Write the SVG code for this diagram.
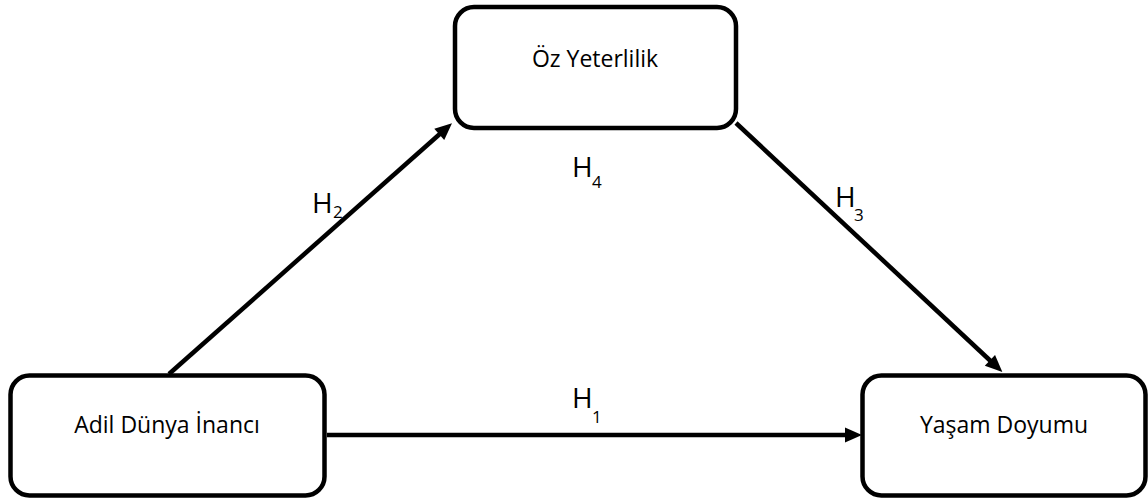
<svg xmlns="http://www.w3.org/2000/svg" width="1148" height="502" viewBox="0 0 1148 502">
<style>
.box{fill:#fff;stroke:#000;stroke-width:4.5}
.lbl{font-family:"Open Sans","Liberation Sans",sans-serif;font-size:23px;fill:#000;text-anchor:middle}
.h{font-family:"Open Sans","Liberation Sans",sans-serif;font-size:28px;fill:#000}
.sub{font-family:"Open Sans","Liberation Sans",sans-serif;font-size:17px;fill:#000}
.conn{fill:none;stroke:#000;stroke-width:4.5;marker-end:url(#arr)}
</style>
<defs>
<marker id="arr" markerUnits="userSpaceOnUse" markerWidth="18" markerHeight="16" refX="9" refY="7.5" orient="auto" overflow="visible">
<path d="M0,0 L17,7.5 L0,15 z" fill="#000"/>
</marker>
</defs>
<rect width="1148" height="502" fill="#fff"/>
<g id="connectors">
<path class="conn" d="M327,435 L854,435"/>
<path class="conn" d="M169,374 L446,128.5"/>
<path class="conn" d="M736,123 L996.5,366.5"/>
</g>
<g id="node-oz">
<rect class="box" x="455" y="7" width="281" height="121" rx="19"/>
<text class="lbl" x="595" y="67">Öz Yeterlilik</text>
</g>
<g id="node-adil">
<rect class="box" x="10.5" y="375.5" width="314" height="120" rx="19"/>
<text class="lbl" x="167" y="433">Adil Dünya İnancı</text>
</g>
<g id="node-yasam">
<rect class="box" x="862.5" y="375.5" width="283" height="120" rx="19"/>
<text class="lbl" x="1004" y="433">Yaşam Doyumu</text>
</g>
<g id="labels">
<text class="h" x="312" y="213">H</text><text class="sub" x="333" y="218">2</text>
<text class="h" x="572" y="177">H</text><text class="sub" x="592" y="188">4</text>
<text class="h" x="572" y="408">H</text><text class="sub" x="592" y="423">1</text>
<text class="h" x="835" y="207">H</text><text class="sub" x="854" y="221">3</text>
</g>
</svg>
